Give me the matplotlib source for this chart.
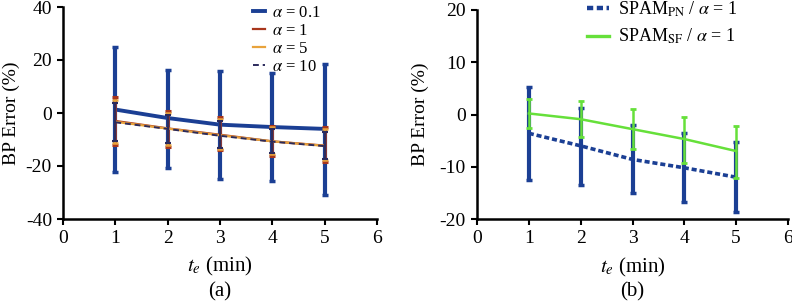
import matplotlib
matplotlib.use("Agg")
import matplotlib.pyplot as plt
from matplotlib.lines import Line2D

plt.rcParams['font.family'] = ['Liberation Serif', 'DejaVu Serif']
plt.rcParams['mathtext.fontset'] = 'stix'

te = [1, 2, 3, 4, 5]

# Panel (a)
a01_mean = [1.3, -1.9, -4.4, -5.3, -6.0]
a01_hi = [25.0, 16.4, 16.0, 15.1, 18.5]
a01_lo = [-22.4, -20.9, -24.9, -25.7, -30.9]

a1_mean = [-3.0, -5.8, -8.2, -10.7, -12.3]
a1_hi = [5.9, 0.9, -1.6, -4.8, -5.4]
a1_lo = [-12.1, -13.0, -13.8, -16.2, -18.6]

a5_mean = [-3.3, -5.9, -8.4, -10.7, -12.4]
a5_hi = [4.8, 0.0, -2.2, -5.4, -6.2]
a5_lo = [-11.2, -12.2, -13.6, -15.6, -17.8]

a10_mean = [-3.5, -6.0, -8.6, -10.8, -12.5]
a10_hi = [3.6, -0.9, -3.2, -6.0, -7.0]
a10_lo = [-10.4, -11.4, -13.2, -15.0, -17.2]

# Panel (b)
pn_mean = [-3.6, -6.0, -8.6, -10.2, -12.0]
pn_hi = [5.2, 1.3, -2.0, -3.6, -5.2]
pn_lo = [-12.6, -13.4, -15.1, -16.8, -18.6]

sf_mean = [0.2, -0.9, -2.8, -4.7, -7.0]
sf_hi = [2.9, 2.5, 1.0, -0.4, -2.2]
sf_lo = [-2.5, -4.3, -6.6, -9.2, -12.1]

labels_a = [r'$\alpha$ = 0.1', r'$\alpha$ = 1', r'$\alpha$ = 5', r'$\alpha$ = 10']
labels_b = [r'SPAM$_{\rm PN}$ / $\alpha$ = 1', r'SPAM$_{\rm SF}$ / $\alpha$ = 1']


def yerr(mean, hi, lo):
    return [[m - l for m, l in zip(mean, lo)], [h - m for m, h in zip(mean, hi)]]


W, H = 792, 305
fig = plt.figure(figsize=(W / 100, H / 100), dpi=100)
axa = fig.add_axes([63 / W, 1 - 219 / H, (377 - 63) / W, (219 - 7) / H])
axb = fig.add_axes([477 / W, 1 - 219 / H, (788 - 477) / W, (219 - 10) / H])

c01 = '#1b3f94'
c1 = '#a8361c'
c5 = '#e8a33c'
c10 = '#2b2a5c'
cpn = '#1b3f94'
csf = '#66e03a'

styles_a = [
    dict(color=c01, lw=2.8, ls='-', elinewidth=3.0, capsize=2.5, capthick=2.5, zorder=2),
    dict(color=c1, lw=1.6, ls='-', elinewidth=1.8, capsize=2.5, capthick=2.2, zorder=3),
    dict(color=c5, lw=1.6, ls='-', elinewidth=1.4, capsize=2.5, capthick=1.8, zorder=4),
    dict(color=c10, lw=1.4, ls=(0, (3, 2)), elinewidth=1.4, capsize=2.0, capthick=1.5, zorder=5),
]
data_a = [(a01_mean, a01_hi, a01_lo), (a1_mean, a1_hi, a1_lo),
          (a5_mean, a5_hi, a5_lo), (a10_mean, a10_hi, a10_lo)]
handles_a = []
for (m, hi, lo), st, lab in zip(data_a, styles_a, labels_a):
    axa.errorbar(te, m, yerr=yerr(m, hi, lo), **st)
    handles_a.append(Line2D([], [], color=st['color'], lw=st['lw'], ls=st['ls'], label=lab))

styles_b = [
    dict(color=cpn, lw=2.6, ls=(0, (1.4, 0.8)), elinewidth=3.0, capsize=2.0, capthick=2.5, zorder=2),
    dict(color=csf, lw=1.8, ls='-', elinewidth=1.8, capsize=2.5, capthick=2.0, zorder=3),
]
data_b = [(pn_mean, pn_hi, pn_lo), (sf_mean, sf_hi, sf_lo)]
handles_b = []
for (m, hi, lo), st, lab in zip(data_b, styles_b, labels_b):
    axb.errorbar(te, m, yerr=yerr(m, hi, lo), **st)
    handles_b.append(Line2D([], [], color=st['color'], lw=st['lw'] + 0.6, ls=st['ls'], label=lab))

for ax, ylim, yt in [(axa, (-40, 40), [-40, -20, 0, 20, 40]), (axb, (-20, 20), [-20, -10, 0, 10, 20])]:
    ax.set_xlim(0, 6)
    ax.set_ylim(*ylim)
    ax.set_xticks([0, 1, 2, 3, 4, 5, 6])
    ax.set_yticks(yt)
    ax.set_yticklabels([str(v) for v in yt])
    ax.spines['top'].set_visible(False)
    ax.spines['right'].set_visible(False)
    ax.spines['left'].set_linewidth(1.8)
    ax.spines['bottom'].set_linewidth(1.8)
    ax.tick_params(direction='out', length=4, width=1.5, labelsize=14, pad=4)
    ax.set_ylabel('BP Error (%)', fontsize=14)
    ax.set_xlabel(r'$t_e$ (min)', fontsize=15)
    ax.xaxis.label.set_va('center')
    ax.yaxis.label.set_va('center')

axa.xaxis.set_label_coords(0.5, -0.226)
axb.xaxis.set_label_coords(0.5, -0.230)
axa.yaxis.set_label_coords(-0.166, 0.5)
axb.yaxis.set_label_coords(-0.183, 0.5)

axa.text(0.5, -0.344, '(a)', transform=axa.transAxes, ha='center', va='center', fontsize=15)
axb.text(0.5, -0.349, '(b)', transform=axb.transAxes, ha='center', va='center', fontsize=15)

axa.legend(handles=handles_a, loc='upper left', bbox_to_anchor=(0.605, 1.01), frameon=False,
           fontsize=12, handlelength=0.75, handletextpad=0.4, labelspacing=0.12,
           borderaxespad=0, borderpad=0)
axb.legend(handles=handles_b, loc='upper left', bbox_to_anchor=(0.354, 1.05), frameon=False,
           fontsize=13, handlelength=1.2, handletextpad=0.5, labelspacing=0.45,
           borderaxespad=0, borderpad=0)

fig.savefig('out.png', dpi=100)
